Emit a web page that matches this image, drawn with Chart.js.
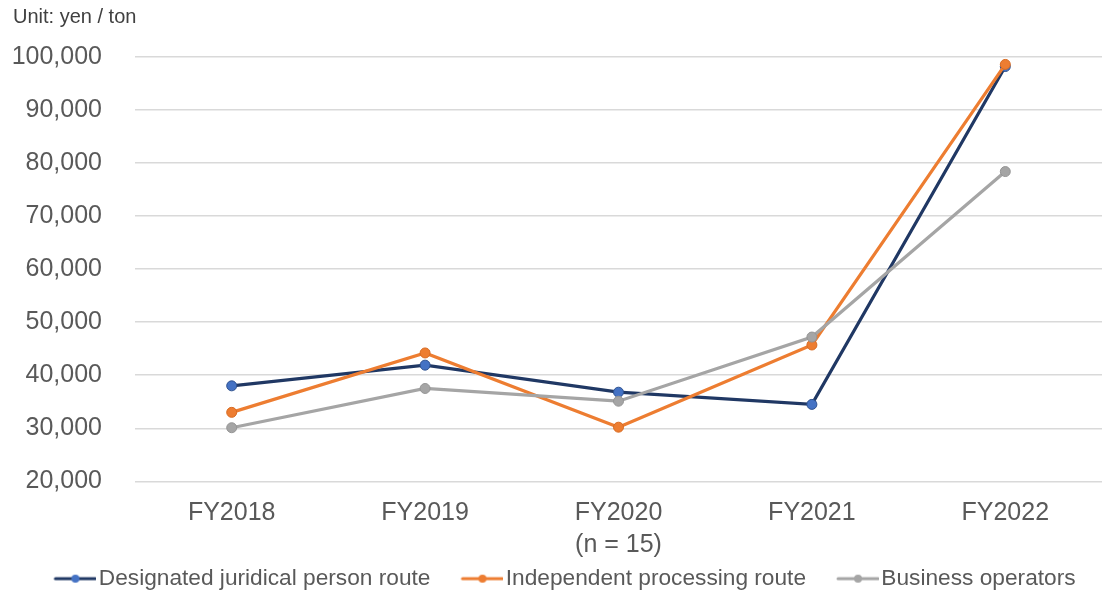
<!DOCTYPE html>
<html>
<head>
<meta charset="utf-8">
<script src="https://cdn.jsdelivr.net/npm/chart.js@4"></script>
<style>
  html, body { margin: 0; padding: 0; background: #ffffff; }
  #wrap { width: 1102px; height: 594px; }
</style>
</head>
<body>
<div id="wrap"><canvas id="chart" width="1102" height="594"></canvas></div>
<script>
// Fiscal years on the category axis
const categories = ['FY2018', 'FY2019', ['FY2020', '(n = 15)'], 'FY2021', 'FY2022'];

// Unit price by route (yen / ton)
const designatedRoute = [38000, 41900, 36800, 34500, 98200];
const independentRoute = [33000, 44200, 30200, 45700, 98600];
const businessOperators = [30100, 37500, 35100, 47200, 78400];

// Value axis ticks
const yMin = 20000;
const yMax = 100000;
const yStep = 10000;

const seriesNames = ['Designated juridical person route', 'Independent processing route', 'Business operators'];
const unitLabel = 'Unit: yen / ton';

const FONT = '"Liberation Sans", Arial, Helvetica, sans-serif';
const TEXT = '#595959';

// Legend glyph: a short line with a dot in the middle
function legendGlyph(lineColor, dotColor) {
  const c = document.createElement('canvas');
  c.width = 72; c.height = 14;
  const g = c.getContext('2d');
  const x0 = 31, x1 = 71, cy = 7;
  g.strokeStyle = lineColor;
  g.lineWidth = 3;
  g.lineCap = 'round';
  g.beginPath(); g.moveTo(x0, cy); g.lineTo(x1, cy); g.stroke();
  g.fillStyle = dotColor;
  g.beginPath(); g.arc((x0 + x1) / 2, cy, 4, 0, Math.PI * 2); g.fill();
  return c;
}

const styles = [
  { line: '#203864', dot: '#4472c4', edge: '#2f528f', order: 3 },
  { line: '#ed7d31', dot: '#ed7d31', edge: '#d86b22', order: 2 },
  { line: '#a5a5a5', dot: '#a5a5a5', edge: '#959595', order: 1 }
];
const glyphs = styles.map(s => legendGlyph(s.line, s.dot));

const seriesData = [designatedRoute, independentRoute, businessOperators];

const datasets = seriesData.map((values, i) => ({
  label: seriesNames[i],
  data: values,
  borderColor: styles[i].line,
  backgroundColor: styles[i].dot,
  borderWidth: 3.2,
  pointRadius: 5,
  pointHoverRadius: 5,
  pointBackgroundColor: styles[i].dot,
  pointBorderColor: styles[i].edge,
  pointBorderWidth: 1,
  tension: 0,
  clip: 8,
  order: styles[i].order
}));

// Small caption above the value axis
const unitCaption = {
  id: 'unitCaption',
  afterDraw(chart) {
    const ctx = chart.ctx;
    ctx.save();
    ctx.font = '20px ' + FONT;
    ctx.fillStyle = '#404040';
    ctx.textAlign = 'left';
    ctx.textBaseline = 'middle';
    ctx.fillText(unitLabel, 13, 17);
    ctx.restore();
  }
};

new Chart(document.getElementById('chart'), {
  type: 'line',
  data: { labels: categories, datasets },
  plugins: [unitCaption],
  options: {
    responsive: false,
    animation: false,
    devicePixelRatio: 1,
    layout: { autoPadding: false, padding: { top: 57, right: -7, left: 0, bottom: -6 } },
    plugins: {
      tooltip: { enabled: false },
      legend: {
        position: 'bottom',
        labels: {
          usePointStyle: true,
          pointStyleWidth: 54,
          padding: 10,
          color: TEXT,
          font: { family: FONT, size: 22.7 },
          sort: (a, b) => a.datasetIndex - b.datasetIndex,
          generateLabels(chart) {
            return chart.data.datasets.map((ds, i) => ({
              text: ds.label,
              fillStyle: ds.borderColor,
              strokeStyle: ds.borderColor,
              lineWidth: 0,
              pointStyle: glyphs[i],
              hidden: false,
              datasetIndex: i,
              fontColor: TEXT
            }));
          }
        }
      }
    },
    scales: {
      x: {
        offset: true,
        grid: { display: false, drawTicks: false, offset: true },
        border: { display: false },
        ticks: {
          color: TEXT,
          padding: 16,
          maxRotation: 0,
          font: { family: FONT, size: 25, lineHeight: 1.28 }
        },
        afterFit(scale) {
          scale.height = 76;
          scale.paddingLeft = 0;
          scale.paddingRight = 0;
        }
      },
      y: {
        min: yMin,
        max: yMax,
        grid: { color: '#d9d9d9', lineWidth: 1.5, drawTicks: false },
        border: { display: false },
        ticks: {
          stepSize: yStep,
          color: TEXT,
          padding: 33,
          font: { family: FONT, size: 25 },
          callback: v => v.toLocaleString('en-US')
        },
        afterFit(scale) { scale.width = 135; }
      }
    }
  }
});
</script>
</body>
</html>
